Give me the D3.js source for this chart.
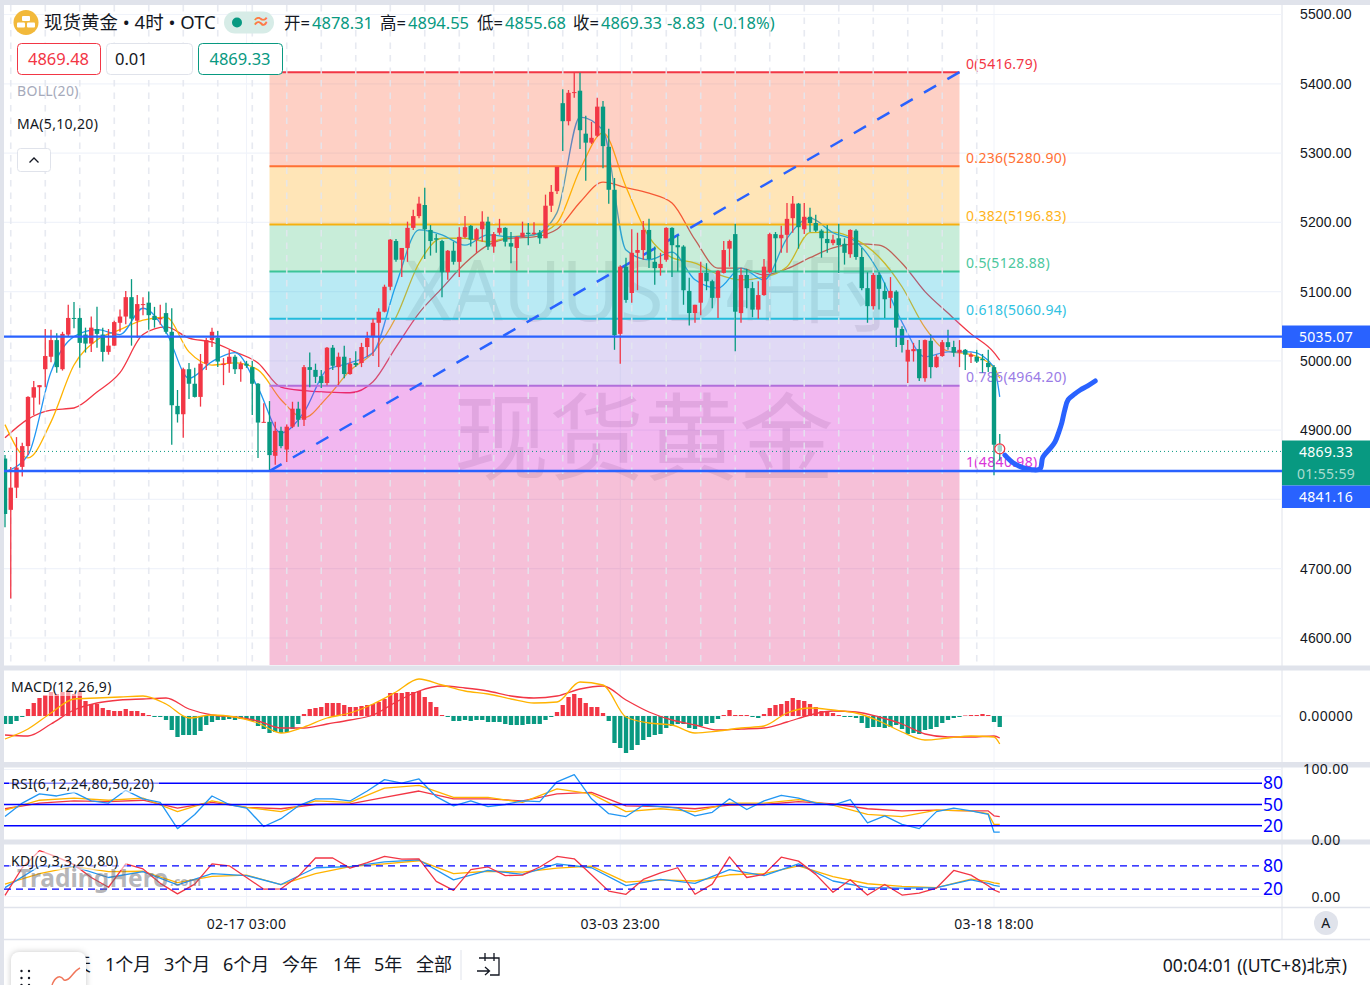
<!DOCTYPE html>
<html>
<head>
<meta charset="utf-8">
<title>现货黄金</title>
<script src="https://cdn.jsdelivr.net/npm/d3@7"></script>
<style>
  html, body { margin: 0; padding: 0; background: #fff; overflow: hidden; }
  svg { display: block; font-family: "Noto Sans", "Noto Sans CJK SC", sans-serif; }
</style>
</head>
<body>
<svg id="chart" width="1370" height="985"></svg>
<script>
// 4h candles, one row = 10 bars
const opens = [
  4859,4785,4817,4847,4877,4947,4962,4988,5006,5030,
  4988,5038,5062,5062,5038,5025,5046,5038,5013,5022,
  5055,5064,5092,5058,5081,5084,5065,5060,5069,5042,
  4935,4923,4988,4967,4948,4996,5030,5033,4994,4996,
  5006,4988,4996,4991,4967,4911,4912,4863,4899,4872,
  4905,4931,4915,4991,4987,4978,4968,5019,4991,5006,
  4981,4997,4997,5020,5035,5055,5071,5107,5173,5146,
  5163,5192,5209,5225,5189,5177,5173,5128,5159,5143,
  5179,5195,5175,5190,5201,5165,5185,5192,5170,5163,
  5179,5185,5183,5185,5177,5224,5245,5372,5346,5387,
  5390,5328,5315,5325,5367,5309,5247,5039,5136,5098,
  5156,5160,5189,5143,5134,5146,5192,5167,5165,5101,
  5069,5084,5127,5115,5091,5127,5162,5183,5069,5124,
  5105,5074,5095,5128,5183,5177,5182,5206,5227,5190,
  5208,5199,5188,5176,5170,5177,5169,5154,5188,5150,
  5105,5079,5124,5101,5091,5100,5046,4999,5014,5017,
  4975,5029,4991,5007,5027,5020,5012,5016,5006,5006,
  5003,4997,4991,4878.31
];
const highs = [
  4864,4847,4890,4882,4949,4971,4965,5046,5045,5040,
  5042,5081,5085,5076,5048,5064,5078,5048,5046,5058,
  5074,5101,5118,5095,5092,5100,5078,5081,5084,5076,
  4958,4990,4997,4990,5010,5033,5048,5043,5004,5016,
  5009,4999,5000,5000,4968,4939,4942,4912,4905,4908,
  4941,4941,4994,5012,4996,4987,5020,5023,5012,5022,
  5004,5014,5026,5042,5061,5076,5110,5176,5176,5163,
  5201,5218,5237,5250,5196,5183,5175,5160,5172,5193,
  5209,5196,5192,5216,5208,5186,5205,5193,5186,5180,
  5201,5199,5200,5189,5240,5254,5280,5392,5391,5417,
  5416,5354,5345,5380,5375,5335,5264,5138,5149,5190,
  5185,5202,5205,5165,5156,5193,5193,5181,5167,5120,
  5081,5143,5141,5117,5131,5173,5175,5198,5134,5133,
  5114,5115,5147,5185,5186,5195,5228,5238,5228,5228,
  5221,5211,5190,5196,5182,5198,5177,5190,5190,5163,
  5128,5127,5128,5113,5121,5102,5050,5030,5026,5030,
  5031,5038,5009,5030,5045,5029,5030,5017,5012,5016,
  5010,5016,4994,4894.55
];
const lows = [
  4760,4657,4802,4833,4864,4922,4937,4962,4998,4983,
  4986,5036,5047,4990,5012,5013,5019,4999,5009,5022,
  5042,5053,5022,5033,5066,5045,5048,5052,5039,4879,
  4911,4889,4945,4947,4934,4987,5020,4991,4965,4983,
  4981,4970,4990,4922,4860,4911,4840,4850,4874,4854,
  4903,4905,4906,4962,4968,4961,4965,4987,4965,4975,
  4980,4991,4991,5006,5007,4991,5070,5102,5143,5121,
  5143,5189,5206,5147,5152,5156,5092,5117,5139,5121,
  5177,5165,5156,5172,5160,5156,5182,5165,5141,5130,
  5179,5167,5182,5169,5177,5215,5241,5303,5340,5380,
  5306,5260,5313,5323,5278,5227,5016,4996,5084,5084,
  5102,5146,5134,5110,5123,5143,5121,5129,5081,5051,
  5055,5066,5102,5076,5062,5126,5136,5014,5055,5076,
  5063,5061,5094,5126,5128,5156,5156,5185,5162,5183,
  5186,5186,5149,5156,5167,5127,5139,5149,5146,5102,
  5055,5074,5074,5062,5076,5020,5012,4968,4999,4971,
  4970,4975,4990,5006,5016,5006,4991,4987,4997,4997,
  4983,4984,4835,4855.68
];
const closes = [
  4779,4817,4846,4877,4948,4962,4965,5007,5030,4991,
  5039,5062,5061,5026,5025,5048,5039,5013,5022,5056,
  5064,5092,5061,5082,5082,5066,5059,5062,5042,4936,
  4923,4988,4967,4948,4996,5030,5042,4999,4996,5006,
  4988,4996,4993,4967,4911,4912,4864,4899,4877,4905,
  4931,4915,4991,4987,4977,4968,5019,4993,5006,4981,
  4996,4994,5020,5033,5055,5071,5107,5175,5146,5163,
  5192,5209,5227,5190,5173,5175,5128,5159,5143,5179,
  5193,5175,5190,5201,5165,5183,5192,5172,5165,5179,
  5185,5183,5185,5177,5224,5244,5280,5346,5387,5388,
  5333,5315,5322,5367,5310,5247,5037,5136,5088,5156,
  5160,5189,5147,5134,5140,5192,5167,5164,5102,5069,
  5081,5127,5115,5091,5130,5160,5173,5071,5124,5105,
  5074,5095,5136,5183,5177,5182,5205,5227,5193,5208,
  5199,5188,5177,5170,5175,5167,5156,5189,5150,5105,
  5079,5124,5104,5089,5101,5048,5023,5016,5017,4975,
  5030,4991,5006,5027,5020,5012,5016,5009,5009,4999,
  5001,4991,4879,4869.33
];

// moving averages, read every 4th bar plus the last one
const maBars = [0,4,8,12,16,20,24,28,32,36,40,44,48,52,56,60,64,68,72,76,80,84,88,92,96,100,104,108,112,116,120,124,128,132,136,140,144,148,152,156,160,164,168,172,173];
const ma5 = [4840,4864,4984,5035,5045,5038,5076,5042,4975,4999,5012,4961,4896,4926,4987,4997,5012,5110,5189,5182,5167,5182,5179,5182,5214,5352,5333,5160,5146,5157,5117,5105,5134,5117,5177,5206,5185,5172,5128,5056,5006,5013,5013,4991,4948];
const ma10 = [4908,4860,4912,4994,5030,5045,5059,5063,5013,4994,4997,4987,4944,4918,4947,4986,5012,5063,5141,5177,5177,5172,5179,5182,5199,5276,5329,5251,5179,5149,5141,5125,5117,5121,5136,5185,5186,5175,5150,5107,5048,5014,5009,4990,4975];
const ma20 = [4889,4916,4929,4932,4955,4983,5038,5049,5033,5027,5013,4997,4962,4957,4955,4954,4970,5020,5069,5105,5141,5167,5177,5179,5190,5229,5258,5250,5242,5228,5175,5134,5134,5124,5133,5149,5163,5169,5167,5141,5100,5069,5039,5012,5001];

// fibonacci retracement
const fibRatios = ['0','0.236','0.382','0.5','0.618','0.786','1'];
const fibPrices = [5416.79,5280.90,5196.83,5128.88,5060.94,4964.20,4840.98];
const fibLineColors = ['#f23645','#ff7033','#f5b00f','#3cc498','#22bcdc','#b16fdb','#d63bd6'];
const fibBandColors = ['#fc623e','#ffa812','#48c380','#16b9da','#9880de','#d412cd','#e12d7d'];
const fibTextColors = ['#f23645','#ff7033','#ffb31a','#4cc79d','#2fc2e2','#9a7be6','#d935d9'];
const fibStartBar = 46, fibEndBar = 166;

// hand drawn brush to the right of the last bar
const brushBars = [173.9,175.3,177,178.6,180,180.5,181.7,182.6,183.3,183.8,184.3,184.9,186,187,188.3,189.6];
const brushPrices = [4864,4853,4846,4843,4844,4861,4873,4883,4898,4911,4929,4944,4952,4958,4964,4971];

const levelPrices = [5035.07,4841.16];
const lastPrice = 4869.33;
const priceTicks = [5500,5400,5300,5200,5100,5000,4900,4800,4700,4600];

// MACD histogram, one value per bar
const macdHist = [
  -8,-8,-5,-1,7,13,18,21,24,22,
  24,25,22,24,15,12,12,8,6,5,
  5,7,5,5,3,1,-1,-1,-4,-14,
  -21,-19,-19,-19,-15,-9,-6,-4,-4,-3,
  -4,-3,-3,-5,-10,-13,-17,-16,-17,-16,
  -13,-8,2,7,8,9,13,13,13,11,
  9,9,10,11,12,14,17,23,23,23,
  24,24,25,19,14,9,1,-1,-5,-5,
  -4,-5,-4,-4,-6,-6,-6,-8,-9,-9,
  -9,-8,-8,-8,-4,-1,4,11,19,22,
  18,13,9,9,3,-5,-27,-32,-37,-34,
  -29,-24,-21,-19,-18,-12,-10,-8,-8,-12,
  -13,-10,-8,-7,-3,1,6,1,1,1,
  -1,-2,2,8,11,12,15,18,16,15,
  12,9,5,5,3,1,-1,-1,-2,-7,
  -12,-11,-11,-12,-11,-9,-13,-18,-17,-18,
  -14,-13,-11,-7,-4,-2,-1,0.5,1,1,
  2,1,-6,-11
];
const macdDif = [-23,-13,3,17,18,19,20,12,-2,1,-1,-7,-17,-11,-2,3,12,24,37,31,25,22,17,13,14,34,31,-1,-7,-9,-17,-15,-12,-10,3,8,6,3,-5,-16,-24,-22,-20,-21,-28];
const macdDea = [-19,-20,-8,6,13,16,17,18,7,1,-1,-5,-12,-12,-8,-4,1,14,25,30,28,25,20,18,20,27,30,16,4,-4,-9,-14,-13,-12,-6,1,5,4,-1,-8,-18,-21,-21,-20,-22];

// RSI and KDJ, fast lines every 3rd bar, slow lines every 6th
const fastBars = [0,3,6,9,12,15,18,21,24,27,30,33,36,39,42,45,48,51,54,57,60,63,66,69,72,75,78,81,84,87,90,93,96,99,102,105,108,111,114,117,120,123,126,129,132,135,138,141,144,147,150,153,156,159,162,165,168,171,172,173];
const slowBars = [0,6,12,18,24,30,36,42,48,54,60,66,72,78,84,90,96,102,108,114,120,126,132,138,144,150,156,162,168,171,172,173];
const rsi6 = [33,52,65,62,67,55,52,70,58,53,16,36,62,50,45,19,30,48,58,58,55,69,85,80,86,61,48,55,47,50,55,54,82,92,58,37,33,49,47,45,34,39,58,43,55,63,59,52,49,57,24,34,22,16,40,45,41,36,11,11];
const rsi12 = [42,56,59,56,59,40,55,46,40,55,53,73,77,60,60,53,72,65,40,44,40,52,52,57,49,36,33,42,41,37,22,22];
const rsi24 = [44,52,55,54,56,45,53,46,44,50,51,60,69,58,58,55,65,67,48,47,44,49,50,54,51,44,41,42,41,41,34,33];
const rsiLevels = [80,50,20];
const kdjK = [24,79,78,50,65,31,60,55,32,75,78,90,95,44,68,58,85,75,29,45,35,70,55,85,41,24,23,24,44,35,30,27];
const kdjD = [33,60,78,65,66,37,53,56,32,60,78,85,93,60,66,64,74,79,38,44,41,57,60,80,52,34,27,24,46,40,36,34];
const kdjJ = [4,75,119,103,83,50,25,85,72,35,8,33,85,80,50,20,21,53,100,100,74,88,104,97,98,40,17,70,77,55,56,77,104,98,57,15,7,45,62,75,7,33,103,50,58,102,92,58,12,44,5,32,5,10,23,68,56,29,18,12];
const kdjLevels = [80,20];

const timeTicks = [[42,'02-17 03:00'],[107,'03-03 23:00'],[172,'03-18 18:00']];
const rangeLabels = [['1个月',105],['3个月',164],['6个月',223],['今年',282],['1年',333],['5年',374],['全部',416]];

const RED = '#f23645', GREEN = '#089981', BLUE = '#2962ff', GRID = '#f0f3fa', BORDER = '#e0e3eb';
const LINE_BLUE = '#2196f3', LINE_YELLOW = '#ffb300', LINE_RED = '#f23645';
const WATERMARK = 'rgba(60,60,70,0.12)';

const svg = d3.select('#chart');
const x = d3.scaleLinear().domain([0, 173]).range([5, 999.75]);
const yPrice = d3.scaleLinear().domain([4600, 5500]).range([638, 14.5]);
const yMacd = d3.scaleLinear().domain([-46, 45]).range([762, 671]);
const yRsi = d3.scaleLinear().domain([0, 100]).range([840, 769]);
const yKdj = d3.scaleLinear().domain([0, 100]).range([897, 858]);

function text(parent, px, py, str, opts = {}) {
  const size = opts.size || 14;
  return parent.append('text')
    .attr('x', px).attr('y', py)
    .attr('dy', '0.35em')
    .attr('font-size', size)
    .attr('fill', opts.fill || '#131722')
    .attr('text-anchor', opts.anchor || 'start')
    .attr('font-weight', opts.weight || null)
    .attr('letter-spacing', size === 14 ? 0.33 : null)
    .text(str);
}

function hline(parent, x0, x1, py, color, width, dash) {
  return parent.append('line')
    .attr('x1', x0).attr('x2', x1).attr('y1', py).attr('y2', py)
    .attr('stroke', color).attr('stroke-width', width)
    .attr('stroke-dasharray', dash || null);
}

function series(parent, bars, values, yScale, color, curve, width) {
  const line = d3.line()
    .x((d, i) => x(bars[i]))
    .y(d => yScale(d))
    .curve(curve || d3.curveLinear);
  return parent.append('path').datum(values)
    .attr('fill', 'none')
    .attr('stroke', color)
    .attr('stroke-width', width || 1.3)
    .attr('stroke-linejoin', 'round')
    .attr('d', line);
}

// clip panes
const defs = svg.append('defs');
[['clip-price',4,5,1278,660],['clip-macd',4,671,1278,91],['clip-rsi',4,768,1278,71],['clip-kdj',4,845,1278,62]].forEach(c => {
  defs.append('clipPath').attr('id', c[0]).append('rect')
    .attr('x', c[1]).attr('y', c[2]).attr('width', c[3]).attr('height', c[4]);
});

// page background and pane gaps
svg.append('rect').attr('width', 1370).attr('height', 985).attr('fill', '#fff');
timeTicks.forEach(t => {
  svg.append('line').attr('x1', x(t[0])).attr('x2', x(t[0])).attr('y1', 5).attr('y2', 907).attr('stroke', GRID).attr('stroke-width', 1);
});
svg.append('rect').attr('width', 1370).attr('height', 5).attr('fill', BORDER);
svg.append('rect').attr('width', 4).attr('height', 985).attr('fill', BORDER);
[[665.5,5],[762,5.5],[839.5,5]].forEach(g => {
  svg.append('rect').attr('x', 0).attr('y', g[0]).attr('width', 1370).attr('height', g[1]).attr('fill', BORDER);
});
hline(svg, 4, 1370, 907.5, BORDER, 1.5);
hline(svg, 4, 1370, 939.5, BORDER, 1.5);
svg.append('line').attr('x1', 1282).attr('x2', 1282).attr('y1', 5).attr('y2', 939).attr('stroke', BORDER).attr('stroke-width', 1);

// ---- price pane
const pricePane = svg.append('g').attr('clip-path', 'url(#clip-price)');

priceTicks.forEach(t => hline(pricePane, 4, 1282, yPrice(t), GRID, 1.2));

// watermark
pricePane.append('text').attr('x', 405).attr('y', 321).attr('font-size', 84)
  .attr('textLength', 317).attr('lengthAdjust', 'spacingAndGlyphs').attr('fill', WATERMARK).text('XAUUSD');
pricePane.append('text').attr('x', 726).attr('y', 321).attr('font-size', 84)
  .attr('textLength', 78).attr('lengthAdjust', 'spacingAndGlyphs').attr('fill', WATERMARK).text('4H');
pricePane.append('text').attr('x', 804).attr('y', 325).attr('font-size', 90)
  .attr('font-family', '"Noto Sans CJK SC"').attr('fill', WATERMARK).text('时');
pricePane.append('text').attr('x', 644).attr('y', 473).attr('text-anchor', 'middle')
  .attr('font-size', 95).attr('font-family', '"Noto Sans CJK SC"').attr('fill', WATERMARK).text('现货黄金');

series(pricePane, maBars, ma20, yPrice, LINE_RED, d3.curveMonotoneX);
series(pricePane, maBars, ma10, yPrice, LINE_YELLOW, d3.curveMonotoneX);
series(pricePane, maBars, ma5, yPrice, LINE_BLUE, d3.curveMonotoneX);

// fib bands, the last one runs to the bottom of the pane
fibPrices.forEach((p, i) => {
  const top = yPrice(p);
  const bottom = i < fibPrices.length - 1 ? yPrice(fibPrices[i + 1]) : 666;
  pricePane.append('rect')
    .attr('x', x(fibStartBar)).attr('width', x(fibEndBar) - x(fibStartBar))
    .attr('y', top).attr('height', bottom - top)
    .attr('fill', fibBandColors[i]).attr('opacity', 0.3);
});
fibPrices.forEach((p, i) => {
  hline(pricePane, x(fibStartBar), x(fibEndBar), yPrice(p), fibLineColors[i], 2);
  text(pricePane, 966, yPrice(p) - 8.5, `${fibRatios[i]}(${p.toFixed(2)})`, {fill: fibTextColors[i]});
});

// vertical dashes, one every 6 bars
d3.range(1, 170, 6).forEach(b => {
  pricePane.append('line').attr('x1', x(b)).attr('x2', x(b)).attr('y1', 5).attr('y2', 665)
    .attr('stroke', '#e3e6ee').attr('stroke-opacity', 0.85).attr('stroke-width', 1.6).attr('stroke-dasharray', '6.5,6');
});

// fib anchor line
pricePane.append('line')
  .attr('x1', x(fibStartBar)).attr('y1', yPrice(fibPrices[6]))
  .attr('x2', x(fibEndBar)).attr('y2', yPrice(fibPrices[0]))
  .attr('stroke', BLUE).attr('stroke-width', 2.5).attr('stroke-dasharray', '14,13');

// candles
const candles = pricePane.append('g').selectAll('g').data(opens).join('g')
  .attr('fill', (d, i) => closes[i] >= d ? RED : GREEN)
  .attr('stroke', (d, i) => closes[i] >= d ? RED : GREEN);
candles.append('line')
  .attr('x1', (d, i) => x(i)).attr('x2', (d, i) => x(i))
  .attr('y1', (d, i) => yPrice(highs[i])).attr('y2', (d, i) => yPrice(lows[i]))
  .attr('stroke-width', 1.3);
candles.append('rect')
  .attr('x', (d, i) => x(i) - 2.2).attr('width', 4.4)
  .attr('y', (d, i) => yPrice(Math.max(d, closes[i])))
  .attr('height', (d, i) => Math.max(1, Math.abs(yPrice(d) - yPrice(closes[i]))))
  .attr('stroke', 'none');

// horizontal levels and last price
levelPrices.forEach(p => hline(pricePane, 4, 1282, yPrice(p), BLUE, 2.4));
hline(pricePane, 4, 1282, yPrice(lastPrice), GREEN, 1, '1,3');

// price marker on the live bar
pricePane.append('circle').attr('cx', x(173)).attr('cy', yPrice(4873)).attr('r', 5)
  .attr('fill', '#fff').attr('fill-opacity', 0.6).attr('stroke', RED).attr('stroke-width', 1.3);

// brush
series(pricePane, brushBars, brushPrices, yPrice, BLUE, d3.curveCatmullRom, 5).attr('stroke-linecap', 'round');

// price axis
const priceAxis = svg.append('g').attr('transform', 'translate(1282,0)')
  .call(d3.axisRight(yPrice).tickValues(priceTicks).tickSize(0).tickPadding(18).tickFormat(d3.format('.2f')));
priceAxis.select('.domain').remove();
priceAxis.selectAll('text').attr('font-size', 14).attr('fill', '#131722').attr('font-family', 'inherit').attr('letter-spacing', 0.15);

function tag(py, h, color, str, fill) {
  svg.append('rect').attr('x', 1282).attr('y', py).attr('width', 88).attr('height', h).attr('fill', color);
  text(svg, 1326, py + h / 2, str, {fill: fill || '#fff', anchor: 'middle'});
}
tag(325.5, 22.5, BLUE, '5035.07');
tag(440.5, 22.5, GREEN, '4869.33');
tag(463, 22.5, GREEN, '01:55:59', '#a9dcd0');
tag(485.5, 22.5, BLUE, '4841.16');

// ---- header
svg.append('circle').attr('cx', 26).attr('cy', 22.5).attr('r', 12.5).attr('fill', '#f2b93b');
[[22,16,8,5],[17,22.5,8,5],[27,22.5,8,5]].forEach(b => {
  svg.append('rect').attr('x', b[0]).attr('y', b[1]).attr('width', b[2]).attr('height', b[3]).attr('rx', 1).attr('fill', '#fff');
});
text(svg, 44, 23, '现货黄金 • 4时 • OTC', {size: 18.5});
svg.append('rect').attr('x', 224).attr('y', 11.5).attr('width', 50).attr('height', 22).attr('rx', 11).attr('fill', '#d7ece7');
svg.append('circle').attr('cx', 237).attr('cy', 22.5).attr('r', 5).attr('fill', GREEN);
text(svg, 261, 22, '≈', {size: 18, fill: '#ff7a45', anchor: 'middle', weight: 700});

[[284,'开=',312,'4878.31'],[380,'高=',408,'4894.55'],[477,'低=',505,'4855.68'],[573,'收=',601,'4869.33']].forEach(o => {
  text(svg, o[0], 23, o[1], {size: 16.5});
  text(svg, o[2], 23, o[3], {size: 16.5, fill: GREEN});
});
text(svg, 667, 23, '-8.83', {size: 16.5, fill: GREEN});
text(svg, 713, 23, '(-0.18%)', {size: 16.5, fill: GREEN});

[[17,83,RED,'4869.48',RED,58.5],[106,86,BORDER,'0.01','#131722',115],[198,84,GREEN,'4869.33',GREEN,240]].forEach((b, i) => {
  svg.append('rect').attr('x', b[0] + 0.5).attr('y', 43.5).attr('width', b[1]).attr('height', 31).attr('rx', 4)
    .attr('fill', '#fff').attr('stroke', b[2]).attr('stroke-width', 1);
  text(svg, b[5], 59, b[3], {size: 16.5, fill: b[4], anchor: i === 1 ? 'start' : 'middle'});
});
text(svg, 17, 91, 'BOLL(20)', {fill: '#a6aabb'});
text(svg, 17, 124, 'MA(5,10,20)');
svg.append('rect').attr('x', 17.5).attr('y', 148.5).attr('width', 33).attr('height', 23).attr('rx', 3)
  .attr('fill', '#fff').attr('stroke', BORDER);
svg.append('path').attr('d', 'M29.5,162.5 L34,158 L38.5,162.5').attr('fill', 'none').attr('stroke', '#131722').attr('stroke-width', 1.3);

// ---- MACD pane
const macdPane = svg.append('g').attr('clip-path', 'url(#clip-macd)');
hline(macdPane, 4, 1282, yMacd(0), GRID, 1.2);
macdPane.selectAll('rect.hist').data(macdHist).join('rect').attr('class', 'hist')
  .attr('x', (d, i) => x(i) - 2.15).attr('width', 4.3)
  .attr('y', d => d >= 0 ? yMacd(d) : yMacd(0))
  .attr('height', d => Math.abs(yMacd(d) - yMacd(0)))
  .attr('fill', d => d >= 0 ? RED : GREEN);
series(macdPane, maBars, macdDea, yMacd, LINE_RED, d3.curveMonotoneX);
series(macdPane, maBars, macdDif, yMacd, LINE_YELLOW, d3.curveMonotoneX);
svg.append('rect').attr('x', 9).attr('y', 678).attr('width', 104).attr('height', 18).attr('fill', '#fff').attr('fill-opacity', 0.55);
text(svg, 11, 687, 'MACD(12,26,9)');
text(svg, 1326, 716, '0.00000', {anchor: 'middle'});

// ---- RSI pane
const rsiPane = svg.append('g').attr('clip-path', 'url(#clip-rsi)');
hline(rsiPane, 4, 1282, 769.5, GRID, 1.2);
series(rsiPane, slowBars, rsi24, yRsi, LINE_RED);
series(rsiPane, slowBars, rsi12, yRsi, LINE_YELLOW);
series(rsiPane, fastBars, rsi6, yRsi, LINE_BLUE);
rsiLevels.forEach(l => {
  hline(rsiPane, 4, 1262, yRsi(l), '#0000ff', 1.4);
  text(svg, 1263, yRsi(l), l, {size: 17.5, fill: '#0000ff'});
});
svg.append('rect').attr('x', 9).attr('y', 775).attr('width', 150).attr('height', 18).attr('fill', '#fff').attr('fill-opacity', 0.55);
text(svg, 11, 784, 'RSI(6,12,24,80,50,20)');
text(svg, 1326, 769, '100.00', {anchor: 'middle'});
text(svg, 1326, 840, '0.00', {anchor: 'middle'});

// ---- KDJ pane
const kdjPane = svg.append('g').attr('clip-path', 'url(#clip-kdj)');
hline(kdjPane, 4, 1282, 896.5, GRID, 1.2);
series(kdjPane, slowBars, kdjD, yKdj, LINE_YELLOW);
series(kdjPane, slowBars, kdjK, yKdj, LINE_BLUE);
series(kdjPane, fastBars, kdjJ, yKdj, LINE_RED);
kdjLevels.forEach(l => {
  hline(kdjPane, 4, 1262, yKdj(l), '#0000ff', 1.2, '7,5');
  text(svg, 1263, yKdj(l), l, {size: 17.5, fill: '#0000ff'});
});
svg.append('rect').attr('x', 9).attr('y', 852).attr('width', 118).attr('height', 18).attr('fill', '#fff').attr('fill-opacity', 0.55);

// site watermark
svg.append('text').attr('x', 17).attr('y', 887).attr('font-size', 24.5).attr('font-weight', 700)
  .attr('fill', 'rgba(110,110,115,0.5)').text('TradingHero');
svg.append('text').attr('x', 170).attr('y', 886).attr('font-size', 13).attr('font-weight', 700)
  .attr('fill', 'rgba(110,110,115,0.5)').text('.com');
text(svg, 11, 861, 'KDJ(9,3,3,20,80)');
text(svg, 1326, 897, '0.00', {anchor: 'middle'});

// ---- time axis
timeTicks.forEach(t => text(svg, x(t[0]), 924, t[1], {anchor: 'middle'}));
svg.append('circle').attr('cx', 1326).attr('cy', 923).attr('r', 12).attr('fill', BORDER);
text(svg, 1326, 923, 'A', {anchor: 'middle'});

// ---- bottom bar
rangeLabels.forEach(r => text(svg, r[1], 965, r[0], {size: 18}));
svg.append('line').attr('x1', 461).attr('x2', 461).attr('y1', 950).attr('y2', 980).attr('stroke', BORDER);
svg.append('path').attr('d', 'M479,958 H499 V975 H490 M485,953 V961 M494,953 V961 M477,971 H489 M485,967 L489.5,971 L485,975')
  .attr('fill', 'none').attr('stroke', '#131722').attr('stroke-width', 1.3);
text(svg, 1347, 966, '00:04:01 ((UTC+8)北京)', {size: 17.6, anchor: 'end'});

// floating widget over the range buttons
text(svg, 91, 965, '5天', {size: 18, anchor: 'end'});
svg.append('rect').attr('x', 11).attr('y', 952).attr('width', 75).attr('height', 45).attr('rx', 8)
  .attr('fill', '#fff').style('filter', 'drop-shadow(0 0 3px rgba(0,0,0,0.22))');
[[21.5,971],[29,971],[21.5,978],[29,978],[21.5,985],[29,985]].forEach(p => {
  svg.append('circle').attr('cx', p[0]).attr('cy', p[1]).attr('r', 1.2).attr('fill', '#131722');
});
svg.append('path').attr('d', 'M52,985 C55,977 60,974 64,980 C70,982 72,972 80,968')
  .attr('fill', 'none').attr('stroke', '#f0765a').attr('stroke-width', 1.4);
</script>
</body>
</html>
